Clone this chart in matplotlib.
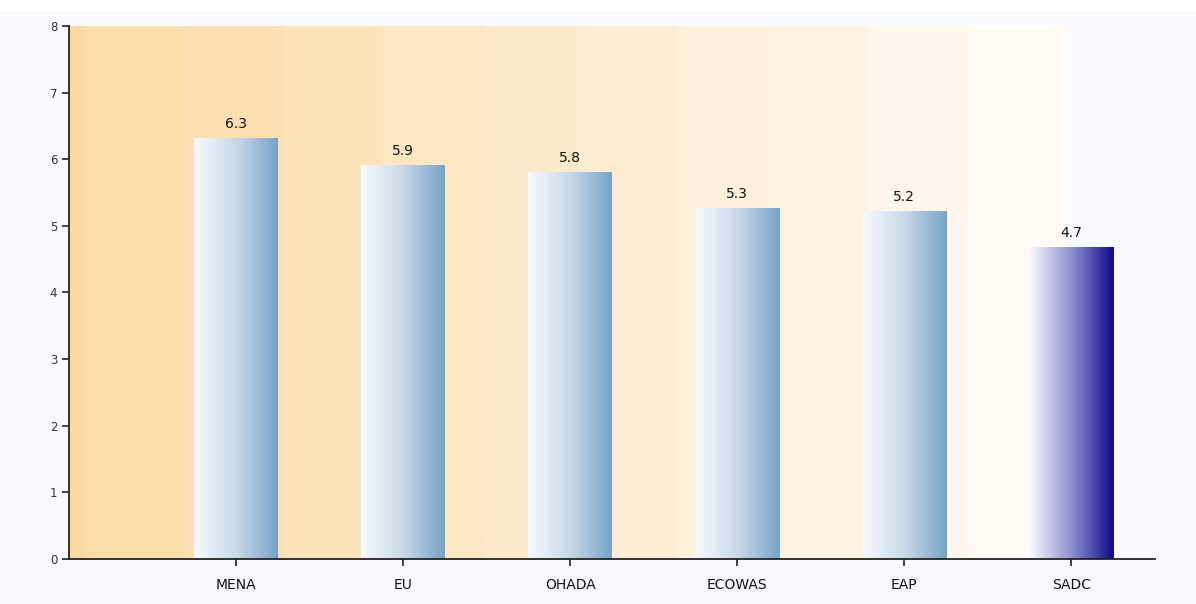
import numpy as np
import matplotlib.pyplot as plt
from matplotlib.colors import LinearSegmentedColormap, to_rgb

categories = ["MENA", "EU", "OHADA", "ECOWAS", "EAP", "SADC"]
values = [6.31, 5.9, 5.8, 5.26, 5.21, 4.67]
value_labels = ["6.3", "5.9", "5.8", "5.3", "5.2", "4.7"]
y_ticks = [0, 1, 2, 3, 4, 5, 6, 7, 8]

FIG_BG = "#f9fafd"
BAND_START = "#fcd9a0"
BAND_END = "#fffaf4"
BAR_LIGHT = "#f8faff"
BAR_BLUE = "#78a4c8"
BAR_NAVY = "#0a0a8c"
INK = "#111111"

fig = plt.figure(figsize=(11.96, 6.04), dpi=100, facecolor=FIG_BG)
# thin white strip along the very top of the image
fig.patches.append(plt.Rectangle((0, 0.985), 1, 0.015, transform=fig.transFigure,
                                 color="white", zorder=0))
ax = fig.add_axes([0.0577, 0.0745, 0.908, 0.8825])
ax.set_facecolor(FIG_BG)

x = np.arange(len(categories))
xmin, xmax = -1.0, 5.5
ymax = 8

# stepped orange background band (stripe edges in category units)
edges = [-1.0, -0.91, -0.31, 0.28, 0.88, 1.48, 2.04, 2.64, 3.18, 3.78, 4.38, 4.98]
n_steps = len(edges) - 1
c0, c1 = np.array(to_rgb(BAND_START)), np.array(to_rgb(BAND_END))
for i in range(n_steps):
    t = i / (n_steps - 1)
    col = c0 + (c1 - c0) * t
    ax.axvspan(edges[i], edges[i + 1], color=col, lw=0, zorder=0)

# gradient bars
width = 0.5
blue_cmap = LinearSegmentedColormap.from_list("bl", [BAR_LIGHT, "#c9d9e8", BAR_BLUE])
navy_cmap = LinearSegmentedColormap.from_list("nv", [BAR_LIGHT, "#8f8fcc", BAR_NAVY])
grad = np.linspace(0, 1, 256).reshape(1, -1)
for i, v in enumerate(values):
    cmap = navy_cmap if categories[i] == "SADC" else blue_cmap
    ax.imshow(grad, cmap=cmap, aspect="auto", interpolation="bicubic",
              extent=(x[i] - width / 2, x[i] + width / 2, 0, v), zorder=2)
    ax.text(x[i], v + 0.12, value_labels[i], ha="center", va="bottom",
            fontsize=10, color=INK, zorder=3)
ax.set_xlim(xmin, xmax)
ax.set_ylim(0, ymax)

for s in ("top", "right"):
    ax.spines[s].set_visible(False)
for s in ("left", "bottom"):
    ax.spines[s].set_color("#222222")
    ax.spines[s].set_linewidth(1.3)
    ax.spines[s].set_zorder(4)

ax.set_xticks(x)
ax.set_xticklabels(categories, fontsize=10, color=INK)
ax.set_yticks(y_ticks)
ax.set_yticklabels([str(t) for t in y_ticks], fontsize=8.5, color="#333333")
ax.tick_params(axis="both", direction="out", length=5, width=1.2, color="#222222")
ax.tick_params(axis="x", pad=9)

fig.savefig("out.png", dpi=100, facecolor=FIG_BG)
